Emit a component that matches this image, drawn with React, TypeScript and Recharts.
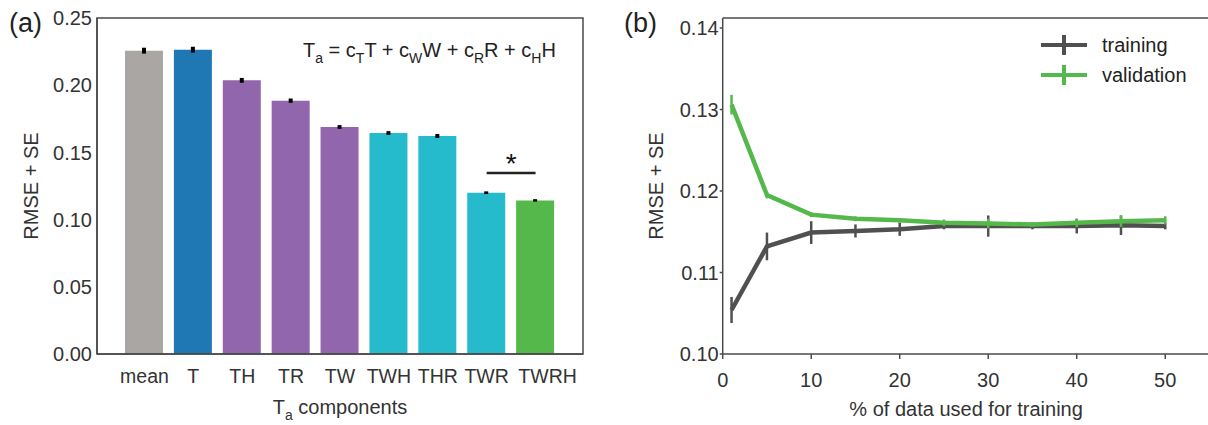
import React from "react";
import { Bar, BarChart, Cell, ErrorBar, Legend, Line, LineChart, ReferenceLine, XAxis, YAxis } from "recharts";

const FONT = '"Liberation Sans", Arial, Helvetica, sans-serif';
const TEXT = '#333';
const AXIS = '#4a4a4a';

// panel (a)
const components = ['mean', 'T', 'TH', 'TR', 'TW', 'TWH', 'THR', 'TWR', 'TWRH'];
const rmse = [0.2257, 0.2264, 0.2036, 0.1885, 0.1689, 0.1644, 0.1622, 0.1200, 0.1143];
const rmseErr = [0.0022, 0.0022, 0.0018, 0.0016, 0.0014, 0.0014, 0.0015, 0.0010, 0.0009];
const barTicks = [0, 0.05, 0.1, 0.15, 0.2, 0.25];
const BAR_COLORS = ['#a9a6a4', '#1f77b4', '#9166ad', '#9166ad', '#9166ad', '#26bacd', '#26bacd', '#26bacd', '#55b84b'];
const LAST = components.length - 1;

// panel (b)
const pctTraining = [1, 5, 10, 15, 20, 25, 30, 35, 40, 45, 50];
const trainRmse = [0.1054, 0.1132, 0.1149, 0.1151, 0.1153, 0.1157, 0.1157, 0.1157, 0.1157, 0.1158, 0.1157];
const trainErr = [0.0016, 0.0017, 0.0014, 0.0008, 0.0008, 0.0004, 0.0013, 0.0004, 0.0009, 0.0012, 0.0004];
const validRmse = [0.1306, 0.1195, 0.1171, 0.1166, 0.1164, 0.1161, 0.1160, 0.1159, 0.1161, 0.1163, 0.1164];
const validErr = [0.0012, 0.0004, 0.0003, 0.0003, 0.0003, 0.0004, 0.0006, 0.0003, 0.0005, 0.0007, 0.0005];
const pctTicks = [0, 10, 20, 30, 40, 50];
const lineTicks = [0.10, 0.11, 0.12, 0.13, 0.14];
const PCT_MAX = 55;
const LINE_Y_MAX = 0.14123;

const TRAIN_COLOR = '#505050';
const VALID_COLOR = '#55b84b';

// page layout (px): plot boxes of both panels
const H = 425;
const PLOT_TOP = 18;
const PLOT_BOTTOM = 354;
const X_AXIS_H = 60;
const Y_AXIS_W = 80;
const A_WIDTH = 600;
const A_LEFT = 97;
const A_RIGHT = 583;
const B_OFFSET = 600;
const B_WIDTH = 620;
const B_LEFT = 722.7;
const B_RIGHT = 1209.5;

const barData = components.map((name, i) => ({ name, rmse: rmse[i], err: rmseErr[i] }));
const lineData = pctTraining.map((pct, i) => ({
  pct,
  train: trainRmse[i],
  trainErr: trainErr[i],
  valid: validRmse[i],
  validErr: validErr[i],
}));

const legendItems = [
  { name: 'training', color: TRAIN_COLOR },
  { name: 'validation', color: VALID_COLOR },
];

const tickStyle = { fontSize: 20, fill: TEXT, fontFamily: FONT };
const frameLine = { stroke: AXIS, strokeWidth: 1.5 };

const LegendContent = () => (
  <div style={{ fontFamily: FONT, fontSize: 20, color: '#222' }}>
    {legendItems.map(item => (
      <div key={item.name} style={{ display: 'flex', alignItems: 'center', height: 30 }}>
        <svg width={48} height={24}>
          <line x1={1} y1={12} x2={47} y2={12} stroke={item.color} strokeWidth={4} />
          <line x1={24} y1={2} x2={24} y2={22} stroke={item.color} strokeWidth={4} />
        </svg>
        <span style={{ marginLeft: 14 }}>{item.name}</span>
      </div>
    ))}
  </div>
);

// the last label sits a little to the right of its bar in the original
const ComponentTick = ({ x, y, payload, index }: any) => (
  <text x={x + (index === LAST ? 12 : 0)} y={y} dy="0.71em" textAnchor="middle" fontSize={19.5} fill={TEXT} fontFamily={FONT}>
    {payload.value}
  </text>
);

const ComponentsLabel = ({ viewBox }: any) => {
  const cx = viewBox.x + viewBox.width / 2;
  const y = viewBox.y + X_AXIS_H;
  return (
    <text x={cx} y={y} textAnchor="middle" fontSize={20} fill={TEXT} fontFamily={FONT}>
      T<tspan fontSize={14} dy={6}>a</tspan><tspan dy={-6}> components</tspan>
    </text>
  );
};

export default function App() {
  return (
    <div style={{ position: 'absolute', left: 0, top: 0, width: 1208, height: H, overflow: 'hidden', background: '#fff', fontFamily: FONT }}>
      <div style={{ position: 'absolute', left: 0, top: 0 }}>
        <BarChart
          width={A_WIDTH}
          height={H}
          data={barData}
          margin={{ top: PLOT_TOP, right: A_WIDTH - A_RIGHT, left: A_LEFT - Y_AXIS_W, bottom: H - PLOT_BOTTOM - X_AXIS_H }}
        >
          <XAxis
            dataKey="name"
            interval={0}
            padding={{ left: 23, right: 23 }}
            tickLine={false}
            tickSize={0}
            tickMargin={15}
            height={X_AXIS_H}
            tick={<ComponentTick />}
            axisLine={frameLine}
            label={{ content: <ComponentsLabel /> }}
          />
          <YAxis
            domain={[0, 0.25]}
            ticks={barTicks}
            tickFormatter={(v: number) => v.toFixed(2)}
            tickLine={false}
            tickSize={0}
            tickMargin={5}
            width={Y_AXIS_W}
            tick={tickStyle}
            axisLine={frameLine}
            label={{ value: 'RMSE + SE', angle: -90, position: 'insideLeft', offset: 14, fontSize: 20, fill: TEXT, style: { textAnchor: 'middle', fontFamily: FONT } }}
          />
          <Bar dataKey="rmse" barSize={38} isAnimationActive={false}>
            {barData.map((d, i) => (
              <Cell key={d.name} fill={BAR_COLORS[i]} />
            ))}
            <ErrorBar dataKey="err" width={0} stroke="#000" strokeWidth={4} direction="y" />
          </Bar>
          <ReferenceLine
            segment={[{ x: 'TWR', y: 0.1347 }, { x: 'TWRH', y: 0.1347 }]}
            stroke="#222"
            strokeWidth={2.5}
            label={{ value: '*', position: 'top', offset: 0, fontSize: 28, fill: '#111', fontFamily: FONT }}
          />
        </BarChart>
      </div>

      <div style={{ position: 'absolute', left: B_OFFSET, top: 0 }}>
        <LineChart
          width={B_WIDTH}
          height={H}
          data={lineData}
          margin={{ top: PLOT_TOP, right: B_OFFSET + B_WIDTH - B_RIGHT, left: B_LEFT - B_OFFSET - Y_AXIS_W, bottom: H - PLOT_BOTTOM - X_AXIS_H }}
        >
          <XAxis
            dataKey="pct"
            type="number"
            domain={[0, PCT_MAX]}
            ticks={pctTicks}
            tickSize={5}
            tickMargin={14}
            height={X_AXIS_H}
            tick={tickStyle}
            tickLine={frameLine}
            axisLine={frameLine}
            label={{ value: '% of data used for training', position: 'insideBottom', offset: -2, fontSize: 20, fill: TEXT, fontFamily: FONT }}
          />
          <YAxis
            domain={[0.1, LINE_Y_MAX]}
            ticks={lineTicks}
            tickFormatter={(v: number) => v.toFixed(2)}
            tickSize={3}
            tickMargin={1}
            width={Y_AXIS_W}
            tick={tickStyle}
            tickLine={frameLine}
            axisLine={frameLine}
            allowDataOverflow
            label={{ value: 'RMSE + SE', angle: -90, position: 'insideLeft', offset: 13.3, fontSize: 20, fill: TEXT, style: { textAnchor: 'middle', fontFamily: FONT } }}
          />
          <Legend
            layout="vertical"
            align="center"
            verticalAlign="middle"
            wrapperStyle={{ left: 440, top: 30, width: 170 }}
            content={<LegendContent />}
          />
          <Line type="linear" dataKey="train" stroke={TRAIN_COLOR} strokeWidth={4.5} dot={false} isAnimationActive={false}>
            <ErrorBar dataKey="trainErr" width={0} stroke={TRAIN_COLOR} strokeWidth={2.5} direction="y" />
          </Line>
          <Line type="linear" dataKey="valid" stroke={VALID_COLOR} strokeWidth={4.5} dot={false} isAnimationActive={false}>
            <ErrorBar dataKey="validErr" width={0} stroke={VALID_COLOR} strokeWidth={2.5} direction="y" />
          </Line>
        </LineChart>
      </div>

      {/* plot frames, panel letters and the model equation */}
      <svg width={1208} height={H} style={{ position: 'absolute', left: 0, top: 0, pointerEvents: 'none' }}>
        <rect x={A_LEFT} y={PLOT_TOP} width={A_RIGHT - A_LEFT} height={PLOT_BOTTOM - PLOT_TOP} fill="none" stroke={AXIS} strokeWidth={1.5} />
        <line x1={B_LEFT} y1={PLOT_TOP} x2={B_RIGHT} y2={PLOT_TOP} stroke={AXIS} strokeWidth={1.5} />
        <text x={9} y={32} fontSize={27} fill="#222" fontFamily={FONT}>(a)</text>
        <text x={624} y={32} fontSize={27} fill="#222" fontFamily={FONT}>(b)</text>
        <text x={303} y={57} fontSize={20} fill="#222" fontFamily={FONT}>
          T<tspan fontSize={14} dy={6}>a</tspan>
          <tspan dy={-6}> = c</tspan><tspan fontSize={14} dy={6}>T</tspan>
          <tspan dy={-6}>T + c</tspan><tspan fontSize={14} dy={6}>W</tspan>
          <tspan dy={-6}>W + c</tspan><tspan fontSize={14} dy={6}>R</tspan>
          <tspan dy={-6}>R + c</tspan><tspan fontSize={14} dy={6}>H</tspan>
          <tspan dy={-6}>H</tspan>
        </text>
      </svg>
    </div>
  );
}
